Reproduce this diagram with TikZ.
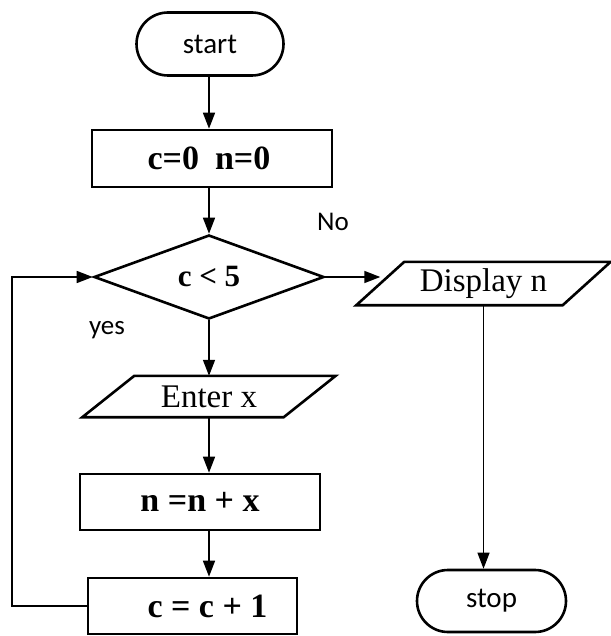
\documentclass[tikz,border=0pt]{standalone}
\usepackage{fontspec}
\setmainfont{Liberation Serif}
\newfontfamily\calib{Carlito}
\usetikzlibrary{shapes.geometric,shapes.misc,arrows.meta}
\begin{document}
\begin{tikzpicture}[x=1pt,y=-1pt,
  term/.style={rounded rectangle, draw, line width=2.6pt, minimum width=147pt, minimum height=63pt, inner sep=0pt, font=\calib\fontsize{29}{31}\selectfont},
  proc/.style={rectangle, draw, line width=2.6pt, inner sep=0pt, font=\fontsize{34}{36}\selectfont\bfseries},
  iobox/.style={rectangle, inner sep=0pt, font=\fontsize{33}{35}\selectfont},
  para/.style={line width=2.6pt, line join=miter},
  dec/.style={diamond, draw, line width=2.6pt, minimum width=230pt, minimum height=84pt, inner sep=0pt, font=\fontsize{31}{33}\selectfont\bfseries},
  arr/.style={line width=1.5pt, -{Triangle[length=16pt,width=12pt]}},
  thinarr/.style={line width=1.1pt, -{Triangle[length=16pt,width=12pt]}},
  lbl/.style={font=\calib\fontsize{27}{29}\selectfont}
]
\useasboundingbox (0,0) rectangle (610,636);
\fill[white] (0,0) rectangle (610,636);

\node[term] (start) at (210,44) {start};
\node[proc, minimum width=240pt, minimum height=57pt] (init) at (212,158.5) {c=0\hspace{16pt}n=0\hspace*{6pt}};
\node[dec] (dia) at (209,277) {c < 5};
\node[iobox, minimum width=206pt, minimum height=43pt] (disp) at (483.5,283.5) {Display n};
\draw[para] ([xshift=-24pt]disp.south west) -- ([xshift=24pt]disp.north west) -- ([xshift=24pt]disp.north east) -- ([xshift=-24pt]disp.south east) -- cycle;
\node[iobox, minimum width=201pt, minimum height=41pt] (enter) at (209,396.5) {Enter x};
\draw[para] ([xshift=-26pt]enter.south west) -- ([xshift=26pt]enter.north west) -- ([xshift=26pt]enter.north east) -- ([xshift=-26pt]enter.south east) -- cycle;
\node[proc, minimum width=240pt, minimum height=56pt] (add) at (200,502) {n =n + x};
\node[proc, minimum width=209pt, minimum height=56pt] (inc) at (192.5,606) {\hspace*{30pt}c = c + 1};
\node[term, minimum width=149pt, minimum height=62pt] (stop) at (491.5,601) {stop};

\node[lbl] (no) at (333,222) {No};
\node[lbl] (yes) at (107,330) {yes};

\coordinate (lp) at (12,277);

\draw[arr] (start.south -| dia.north) -- (init.north -| dia.north);
\draw[arr] (init.south -| dia.north) -- (dia.north);
\draw[arr] (dia.south) -- (enter.north -| dia.south);
\draw[arr] (enter.south -| dia.south) -- (add.north -| dia.south);
\draw[arr] (add.south -| dia.south) -- (inc.north -| dia.south);
\draw[arr] (dia.east) -- (dia.east -| disp.west);
\draw[thinarr] (disp.south) -- (disp.south |- stop.north);
\draw[arr] (inc.west) -| (lp) -- (dia.west);
\end{tikzpicture}
\end{document}
